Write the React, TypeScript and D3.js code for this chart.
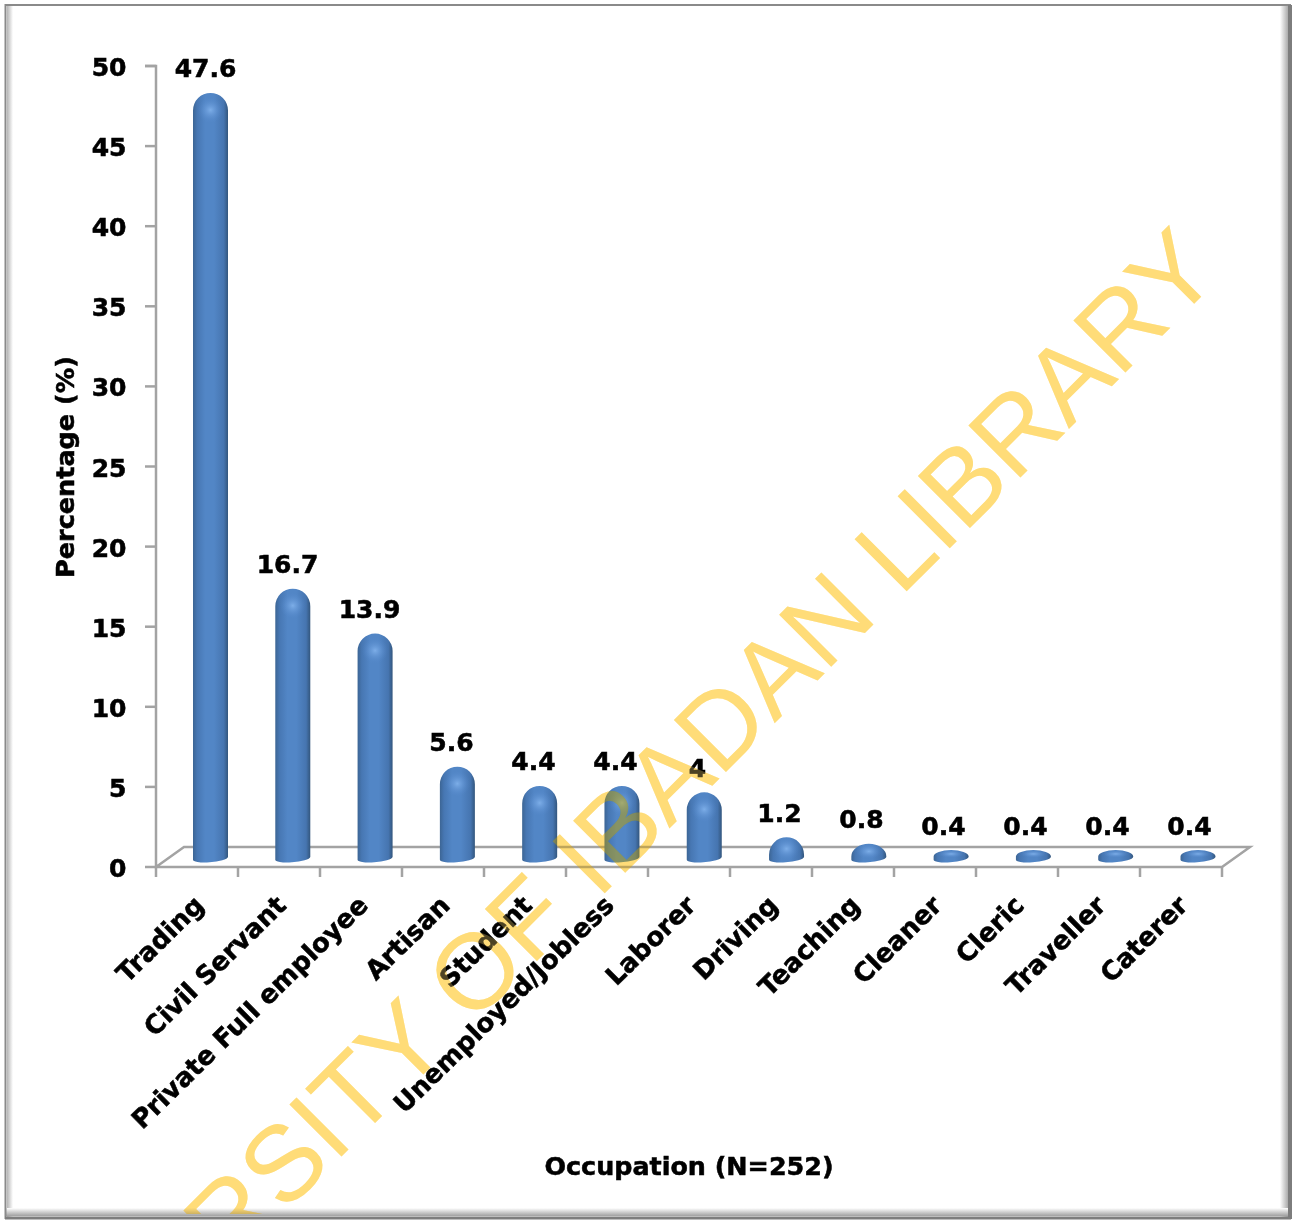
import React from "react";
import * as d3 from "d3";

const occupations = ["Trading", "Civil Servant", "Private Full employee", "Artisan", "Student", "Unemployed/Jobless", "Laborer", "Driving", "Teaching", "Cleaner", "Cleric", "Traveller", "Caterer"];
const percentages = [47.6, 16.7, 13.9, 5.6, 4.4, 4.4, 4, 1.2, 0.8, 0.4, 0.4, 0.4, 0.4];
const valueLabels = ["47.6", "16.7", "13.9", "5.6", "4.4", "4.4", "4", "1.2", "0.8", "0.4", "0.4", "0.4", "0.4"];
const percentTicks = [0, 5, 10, 15, 20, 25, 30, 35, 40, 45, 50];
const stamp = "UNIVERSITY OF IBADAN LIBRARY";

const W = 1300;
const H = 1220;
const FONT = "'DejaVu Sans', sans-serif";
const AXIS = "#a3a3a3";

// Front edge of the plot floor and the depth offset towards the back wall.
const frontLeft = 156;
const frontRight = 1222;
const depthX = 28;
const depthY = 20;
const barHalf = 17.5;

const yFront = d3.scaleLinear().domain([0, 50]).range([867, 66]);
// Columns stand mid-way into the floor, so they get their own scales.
const yBar = d3.scaleLinear().domain([0, 50]).range([856.5, 54.5]);
const xBar = d3.scalePoint<string>().domain(occupations).range([210.5, 1198]);
const xBand = d3.scaleBand<string>().domain(occupations).range([frontLeft, frontRight]);
const xText = (name: string) => (xBand(name) as number) + xBand.bandwidth() / 2 + 13.5;

const heavy = { fontFamily: FONT, fontWeight: 700, stroke: "#000", strokeWidth: 0.55 };

function barPath(cx: number, value: number) {
  const top = yBar(value);
  const base = yBar(0);
  const r = barHalf;
  const capY = Math.min(r, base - top);
  const shoulder = top + capY;
  const left = cx - r;
  const right = cx + r;
  return [
    `M${left},${base + 3}`,
    `L${left},${shoulder}`,
    `A${r},${capY} 0 0 1 ${right},${shoulder}`,
    `L${right},${base + 0.5}`,
    `A${r},4 -5 0 1 ${left},${base + 3}`,
    "Z",
  ].join(" ");
}

export default function App() {
  return (
    <svg
      width={W}
      height={H}
      viewBox={`0 0 ${W} ${H}`}
      style={{ position: "absolute", left: 0, top: 0, background: "#fff" }}
    >
      <defs>
        <linearGradient id="barBody" x1="0" x2="1" y1="0" y2="0">
          <stop offset="0" stopColor="#3c6594" />
          <stop offset="0.12" stopColor="#4777b3" />
          <stop offset="0.35" stopColor="#5286c6" />
          <stop offset="0.6" stopColor="#5286c6" />
          <stop offset="0.88" stopColor="#4675b0" />
          <stop offset="1" stopColor="#33567d" />
        </linearGradient>
        <radialGradient id="capGlow" cx="0.5" cy="0.5" r="0.5">
          <stop offset="0" stopColor="#7fb0ea" stopOpacity="0.95" />
          <stop offset="1" stopColor="#5588cb" stopOpacity="0" />
        </radialGradient>
        <linearGradient id="edgeLeft" x1="0" x2="1" y1="0" y2="0">
          <stop offset="0" stopColor="#b5b5b5" />
          <stop offset="1" stopColor="#ffffff" />
        </linearGradient>
        <linearGradient id="edgeRight" x1="1" x2="0" y1="0" y2="0">
          <stop offset="0" stopColor="#a0a0a0" />
          <stop offset="1" stopColor="#ffffff" />
        </linearGradient>
        <linearGradient id="edgeBottom" x1="0" x2="0" y1="1" y2="0">
          <stop offset="0" stopColor="#a0a0a0" />
          <stop offset="1" stopColor="#ffffff" />
        </linearGradient>
        <clipPath id="frameClip">
          <rect x="6" y="6" width="1284" height="1208" />
        </clipPath>
      </defs>

      {/* Outer frame with its soft inner bevel */}
      <rect x="7" y="6" width="6" height="1212" fill="url(#edgeLeft)" />
      <rect x="1280" y="6" width="9" height="1212" fill="url(#edgeRight)" />
      <rect x="6" y="1208" width="1284" height="8" fill="url(#edgeBottom)" />
      <rect x="5.5" y="5" width="1284.5" height="1213" fill="none" stroke="#8a8a8a" strokeWidth="2" />
      <line x1="1290" x2="1290" y1="5" y2="1219" stroke="#7d7d7d" strokeWidth="4" />
      <line x1="5" x2="1291" y1="1218" y2="1218" stroke="#7d7d7d" strokeWidth="3" />

      {/* Floor outline and value axis */}
      <g fill="none" stroke={AXIS} strokeWidth={2.5}>
        <path d={`M${frontLeft - 11},${yFront(50)} H${frontLeft} V${yFront(0)} H${frontRight} L${frontRight + depthX},${yFront(0) - depthY} H${frontLeft + depthX} L${frontLeft},${yFront(0)}`} strokeLinejoin="miter" />
        {percentTicks.map((t) => (
          <line key={t} x1={frontLeft - 11} x2={frontLeft} y1={yFront(t)} y2={yFront(t)} />
        ))}
        {d3.range(occupations.length + 1).map((i) => {
          const x = frontLeft + i * xBand.step();
          return <line key={i} x1={x} x2={x} y1={yFront(0)} y2={yFront(0) + 10} />;
        })}
      </g>

      {percentTicks.map((t) => (
        <text key={t} x={126.5} y={yFront(t) + 10} textAnchor="end" fontSize={25} {...heavy}>
          {t}
        </text>
      ))}

      {/* Rounded column marks */}
      {occupations.map((name, i) => {
        const cx = xBar(name) as number;
        const d = barPath(cx, percentages[i]);
        const top = yBar(percentages[i]);
        const h = yBar(0) - top;
        return (
          <g key={name}>
            <path d={d} fill="url(#barBody)" />
            <ellipse cx={cx} cy={top + Math.min(17, h * 0.6)} rx={13} ry={Math.min(13, h * 0.6)} fill="url(#capGlow)" />
          </g>
        );
      })}

      {/* Category labels, value labels and axis titles */}
      {occupations.map((name) => {
        const x = xText(name) - 5;
        return (
          <text key={name} transform={`translate(${x},907) rotate(-44.5)`} textAnchor="end" fontSize={26} {...heavy}>
            {name}
          </text>
        );
      })}
      {occupations.map((name, i) => (
        <text key={name} x={xText(name) - 5} y={yBar(percentages[i]) - 15.5} textAnchor="middle" fontSize={25} {...heavy}>
          {valueLabels[i]}
        </text>
      ))}
      <text transform="translate(74,467) rotate(-90)" textAnchor="middle" fontSize={25.5} {...heavy}>
        Percentage (%)
      </text>
      <text x={689} y={1175} textAnchor="middle" fontSize={25.4} {...heavy}>
        Occupation (N=252)
      </text>

      {/* Library stamp across the whole sheet: a multiplied pass, then a thin
          wash of the same colour so that dark marks below it stay lifted */}
      <g clipPath="url(#frameClip)" style={{ mixBlendMode: "multiply" }}>
        <text
          id="libraryStamp"
          transform="translate(1223,275) rotate(-45)"
          textAnchor="end"
          fontFamily="'Liberation Sans', sans-serif"
          fontSize={107}
          fill="#ffdc78"
        >
          {stamp}
        </text>
      </g>
      <g clipPath="url(#frameClip)" opacity={0.3}>
        <use href="#libraryStamp" />
      </g>
    </svg>
  );
}
